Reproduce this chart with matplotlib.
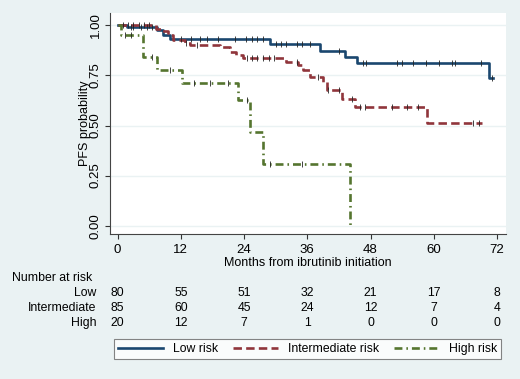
import numpy as np
import matplotlib.pyplot as plt
from matplotlib.transforms import blended_transform_factory

# ==========================================
# data
# ==========================================
low_t = [0, 1.7, 7.4, 8.6, 10.0, 28.9, 38.4, 43.2, 45.5, 70.5, 71.3]
low_s = [1.0, 0.99, 0.975, 0.95, 0.93, 0.905, 0.873, 0.843, 0.813, 0.735, 0.735]
low_cens = [1, 2.5, 3, 4.5, 5.5, 6.5, 12, 14, 15.7, 17, 19, 22.3, 24.4, 25.5, 26.5, 27.5,
            30, 31, 32, 34, 35, 36.5, 42, 46.5, 47.2, 53, 54, 56, 58.5, 61, 63.5, 64, 69, 71]

int_t = [0, 7.3, 8.3, 9.5, 10.5, 12.8, 13.8, 19.5, 21.3, 22.5, 23.8, 32.0, 34.2, 35.2,
         36.5, 39.0, 39.7, 42.5, 45.0, 58.8, 69.1]
int_s = [1.0, 0.98, 0.97, 0.95, 0.925, 0.91, 0.90, 0.893, 0.868, 0.85, 0.835, 0.818, 0.80,
         0.777, 0.743, 0.718, 0.677, 0.63, 0.59, 0.513, 0.513]
int_cens = [2, 3, 4, 5, 6, 13, 15, 24.5, 25.5, 26.5, 27.5, 28.8, 29.7, 34, 38, 40, 42, 44.5,
            46, 47, 52, 55, 57, 67.5, 68.5]

high_t = [0, 0.7, 4.9, 7.4, 12.2, 22.9, 25.1, 27.6, 44.1, 44.1]
high_s = [1.0, 0.95, 0.843, 0.777, 0.71, 0.627, 0.468, 0.31, 0.0, 0.0]
high_cens = [1.5, 2.5, 6.5, 10, 14.5, 17.5, 21, 24.5, 29, 35]

risk_times = [0, 12, 24, 36, 48, 60, 72]
risk_groups = ['Low', 'Intermediate', 'High']
risk_low = [80, 55, 51, 32, 21, 17, 8]
risk_int = [85, 60, 45, 24, 12, 7, 4]
risk_high = [20, 12, 7, 1, 0, 0, 0]

legend_labels = ['Low risk', 'Intermediate risk', 'High risk']

BG = '#EAF2F3'
NAVY = '#1A476F'
MAROON = '#90353B'
GREEN = '#55752F'

plt.rcParams['font.family'] = ['Liberation Sans', 'DejaVu Sans']
plt.rcParams['font.size'] = 8.5

fig = plt.figure(figsize=(5.2, 3.79), dpi=100, facecolor=BG)
ax = fig.add_axes([110 / 520, 1 - 234 / 379, 396 / 520, 221 / 379])
ax.set_facecolor('white')


def surv_at(times, surv, t):
    # value of the step curve at time t
    idx = np.searchsorted(times, t, side='right') - 1
    return np.asarray(surv)[idx]


styles = [
    (low_t, low_s, low_cens, NAVY, '-'),
    (int_t, int_s, int_cens, MAROON, (0, (3.2, 1.6))),
    (high_t, high_s, high_cens, GREEN, (0, (3, 1.5, 0.6, 1.5))),
]

lines = []
for t, s, cens, col, ls in styles:
    ln, = ax.step(t, s, where='post', color=col, lw=1.9, linestyle=ls, zorder=3)
    lines.append(ln)
    ax.plot(cens, surv_at(t, s, cens), linestyle='none', marker='|', color='#222222',
            markersize=4, markeredgewidth=0.6, zorder=4)

ax.set_xlim(-1.44, 73.7)
ax.set_ylim(-0.0415, 1.0615)
ax.set_xticks(risk_times)
ax.set_yticks([0, 0.25, 0.5, 0.75, 1.0])
ax.set_yticklabels(['0.00', '0.25', '0.50', '0.75', '1.00'], rotation=90, va='center')
ax.grid(axis='y', color=BG, lw=1.0, zorder=0)
ax.tick_params(direction='out', length=3.6, width=0.8, colors='#333333', labelcolor='black',
               labelsize=9.5)
ax.tick_params(axis='y', pad=2.5)
for side in ['top', 'right']:
    ax.spines[side].set_visible(False)
for side in ['left', 'bottom']:
    ax.spines[side].set_color('#444444')
    ax.spines[side].set_linewidth(0.8)

ax.set_xlabel('Months from ibrutinib initiation', fontsize=9, labelpad=1)
ax.set_ylabel('PFS probability', fontsize=9, labelpad=-1)

# number at risk table
tr = blended_transform_factory(ax.transData, fig.transFigure)
fig.text(12 / 520, 1 - 278 / 379, 'Number at risk', fontsize=8.8, va='center', ha='left')
row_y = [293.3, 308.3, 322.7]
for grp, counts, yy in zip(risk_groups, [risk_low, risk_int, risk_high], row_y):
    fig.text(96.7 / 520, 1 - yy / 379, grp, fontsize=8.8, va='center', ha='right')
    for tt, n in zip(risk_times, counts):
        ax.text(tt, 1 - yy / 379, str(n), transform=tr, fontsize=8.8, va='center',
                ha='center', clip_on=False)

leg = fig.legend(lines, legend_labels, ncol=3, loc='center',
                 bbox_to_anchor=(307.5 / 520, 1 - 349 / 379), frameon=True, fancybox=False,
                 edgecolor='#666666', facecolor='white', handlelength=3.7, columnspacing=1.2,
                 handletextpad=0.8, borderpad=0.35, fontsize=8.8)
leg.get_frame().set_linewidth(0.8)

fig.savefig('out.png', dpi=100, facecolor=BG)
